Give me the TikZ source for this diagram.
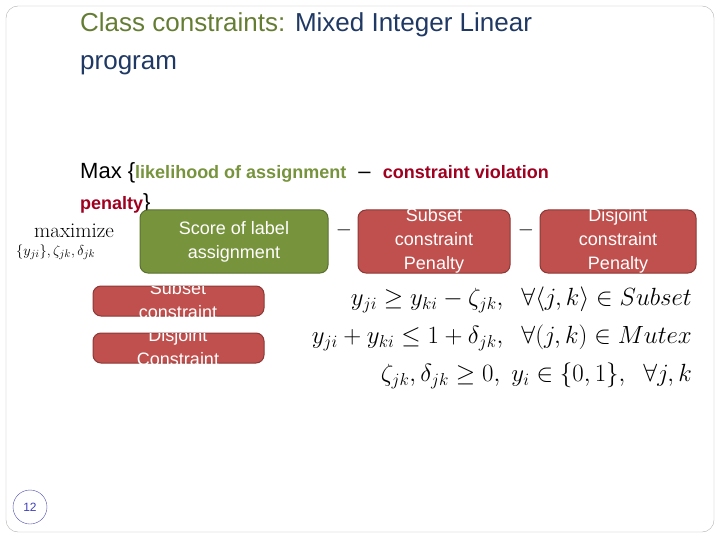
\documentclass[tikz,border=0pt]{standalone}
\usepackage{amsmath}
\usepackage{amssymb}
\usepackage{fontspec}
\setmainfont{Liberation Sans}
\newfontfamily\serifcm{Latin Modern Roman}
\usepackage{xcolor}
\usetikzlibrary{positioning}
\definecolor{olive}{HTML}{77933C}
\definecolor{olivedark}{HTML}{5A7030}
\definecolor{penred}{HTML}{C0504D}
\definecolor{penreddark}{HTML}{8C3836}
\definecolor{darkred}{HTML}{A00020}
\definecolor{titleblue}{HTML}{1F3864}

\begin{document}
\begin{tikzpicture}[
    x=1pt, y=-1pt,
    scorebox/.style={rectangle, rounded corners=8pt, draw=olivedark, fill=olive, line width=1pt},
    penbox/.style={rectangle, rounded corners=8pt, draw=penreddark, fill=penred, line width=1pt},
    boxtext/.style={text=white, align=center, font=\fontsize{18}{24}\selectfont, inner sep=0pt},
    eqn/.style={anchor=east, font=\fontsize{25}{27}\selectfont, inner sep=0pt}
]
\useasboundingbox (0,0) rectangle (720,540);
\draw[gray!60, rounded corners=12pt] (6,6) rectangle (714,532);

% title
\node[anchor=west, font=\fontsize{26}{38}\selectfont, align=left, inner sep=0pt] (title) at (80,44)
  {\textcolor{olive!85!black}{Class constraints:} \textcolor{titleblue}{Mixed Integer Linear}\\\textcolor{titleblue}{program}};

% objective in words
\node[anchor=west, font=\fontsize{22}{31}\selectfont, align=left, inner sep=0pt] (words) at (80,188)
  {Max \{\textcolor{olive}{\textbf{\fontsize{18}{31}\selectfont likelihood of assignment}}\ \ \textendash\ \ \textcolor{darkred}{\textbf{\fontsize{18}{31}\selectfont constraint violation}}\\
   \textcolor{darkred}{\textbf{\fontsize{18}{31}\selectfont penalty}}\}};

% maximize
\node[anchor=west, inner sep=0pt, font=\fontsize{21}{22}\selectfont\serifcm] (maxi) at (34,231) {maximize};
\node[anchor=west, inner sep=0pt, font=\fontsize{15}{16}\selectfont] (maxsub) at (16,252) {$\{y_{ji}\},\zeta_{jk},\delta_{jk}$};

% top boxes
\path[scorebox] (140,210) rectangle (328,273);
\node[boxtext] (score) at (234,242) {Score of label\\assignment};
\node[font=\fontsize{20}{22}\selectfont] (minus1) at (344,230) {$-$};
\path[penbox] (358,210) rectangle (510,273);
\begin{scope}
  \clip (358,210) rectangle (510,273);
  \node[boxtext, anchor=north] (subpen) at (434,208) {Subset\\constraint\\Penalty};
\end{scope}
\node[font=\fontsize{20}{22}\selectfont] (minus2) at (526,230) {$-$};
\path[penbox] (540,210) rectangle (696,273);
\begin{scope}
  \clip (540,210) rectangle (696,273);
  \node[boxtext, anchor=north] (dispen) at (618,208) {Disjoint\\constraint\\Penalty};
\end{scope}

% side boxes
\path[penbox] (93,286) rectangle (264,316);
\begin{scope}
  \clip (93,286) rectangle (264,316);
  \node[boxtext, anchor=north] (subcon) at (178,281) {Subset\\constraint};
\end{scope}
\path[penbox] (93,333) rectangle (264,363);
\begin{scope}
  \clip (93,333) rectangle (264,363);
  \node[boxtext, anchor=north] (discon) at (178,328) {Disjoint\\Constraint};
\end{scope}

% constraints
\node[eqn] (eq1) at (692,300) {$y_{ji}\geq y_{ki}-\zeta_{jk},\ \ \forall\langle j,k\rangle\in \mathnormal{Subset}$};
\node[eqn] (eq2) at (692,338) {$y_{ji}+y_{ki}\leq 1+\delta_{jk},\ \ \forall(j,k)\in \mathnormal{Mutex}$};
\node[eqn] (eq3) at (692,376) {$\zeta_{jk},\delta_{jk}\geq 0,\ y_i\in\{0,1\},\ \ \forall j,k$};

% slide number
\node[circle, draw=blue!40!gray, minimum size=34pt, inner sep=0pt, text=blue!50!gray, font=\fontsize{12}{14}\selectfont] (num) at (30,507) {12};
\end{tikzpicture}
\end{document}
